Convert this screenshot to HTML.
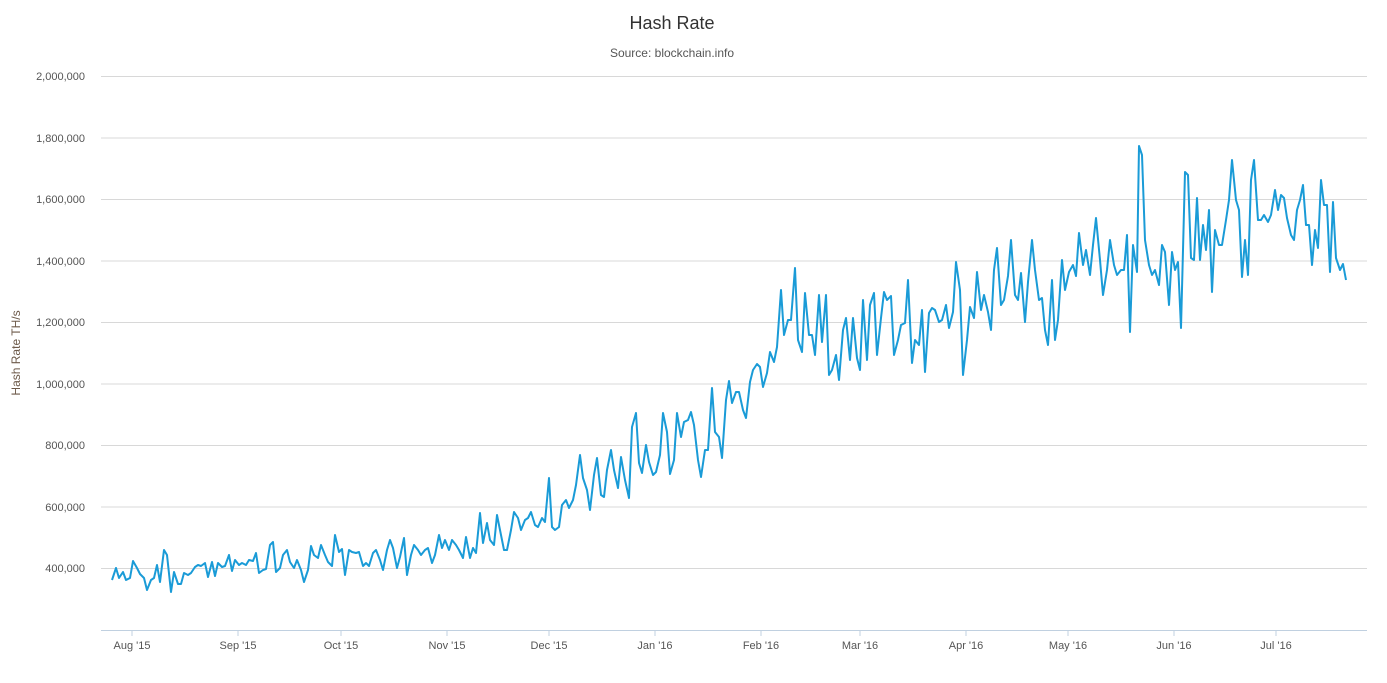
<!DOCTYPE html>
<html><head><meta charset="utf-8"><style>
body{margin:0;background:#fff;font-family:"Liberation Sans",sans-serif}
</style></head><body>
<svg width="1387" height="678" xmlns="http://www.w3.org/2000/svg" font-family="Liberation Sans, sans-serif">
<text x="672" y="29" text-anchor="middle" font-size="18" fill="#333">Hash Rate</text>
<text x="672" y="57" text-anchor="middle" font-size="12" fill="#555">Source: blockchain.info</text>
<g stroke="#d8d8d8" stroke-width="1">
<line x1="101" x2="1367" y1="76.5" y2="76.5"/><line x1="101" x2="1367" y1="138" y2="138"/>
<line x1="101" x2="1367" y1="199.5" y2="199.5"/><line x1="101" x2="1367" y1="261" y2="261"/>
<line x1="101" x2="1367" y1="322.5" y2="322.5"/><line x1="101" x2="1367" y1="384" y2="384"/>
<line x1="101" x2="1367" y1="445.5" y2="445.5"/><line x1="101" x2="1367" y1="507" y2="507"/>
<line x1="101" x2="1367" y1="568.5" y2="568.5"/>
</g>
<line x1="101" x2="1367" y1="630.5" y2="630.5" stroke="#c0d0e0"/>
<g stroke="#c0d0e0"><line x1="132" x2="132" y1="630" y2="636"/><line x1="238" x2="238" y1="630" y2="636"/><line x1="341" x2="341" y1="630" y2="636"/><line x1="447" x2="447" y1="630" y2="636"/><line x1="549" x2="549" y1="630" y2="636"/><line x1="655" x2="655" y1="630" y2="636"/><line x1="761" x2="761" y1="630" y2="636"/><line x1="860" x2="860" y1="630" y2="636"/><line x1="966" x2="966" y1="630" y2="636"/><line x1="1068" x2="1068" y1="630" y2="636"/><line x1="1174" x2="1174" y1="630" y2="636"/><line x1="1276" x2="1276" y1="630" y2="636"/></g>
<g font-size="11" fill="#555" text-anchor="end">
<text x="85" y="80">2,000,000</text><text x="85" y="142">1,800,000</text><text x="85" y="203">1,600,000</text><text x="85" y="265">1,400,000</text><text x="85" y="326">1,200,000</text><text x="85" y="388">1,000,000</text><text x="85" y="449">800,000</text><text x="85" y="511">600,000</text><text x="85" y="572">400,000</text>
</g>
<g font-size="11" fill="#555" text-anchor="middle">
<text x="132" y="649">Aug '15</text><text x="238" y="649">Sep '15</text><text x="341" y="649">Oct '15</text><text x="447" y="649">Nov '15</text><text x="549" y="649">Dec '15</text><text x="655" y="649">Jan '16</text><text x="761" y="649">Feb '16</text><text x="860" y="649">Mar '16</text><text x="966" y="649">Apr '16</text><text x="1068" y="649">May '16</text><text x="1174" y="649">Jun '16</text><text x="1276" y="649">Jul '16</text>
</g>
<text transform="translate(20,353) rotate(-90)" text-anchor="middle" font-size="12" fill="#6d5a4a">Hash Rate TH/s</text>
<polyline fill="none" stroke="#1a9bd7" stroke-width="2" stroke-linejoin="round" points="112,580 116,568 119,578 123,572 126,580 130,578 133,561 137,568 140,574 144,578 147,590 151,580 154,578 157,565 160,582 164,550 167,555 171,592 174,572 178,584 181,584 184,573 188,575 191,573 195,567 198,565 201,566 205,563 208,577 212,562 215,576 218,563 222,567 225,566 229,555 232,571 235,560 239,565 242,563 246,565 249,560 253,561 256,553 259,573 263,570 266,569 270,545 273,542 276,572 280,568 283,555 287,550 290,562 294,568 297,560 301,570 304,582 308,570 311,546 314,555 318,558 321,545 325,555 328,562 332,566 335,535 339,552 342,549 345,575 349,550 352,552 356,553 359,552 363,566 366,563 369,566 373,553 376,550 380,560 383,570 387,550 390,540 393,548 397,568 400,557 404,538 407,575 411,555 414,545 418,550 421,555 425,550 428,548 432,563 435,555 439,535 442,548 445,540 449,550 452,540 456,545 459,550 463,558 466,537 470,558 473,548 476,553 480,513 483,543 487,523 490,540 494,545 497,515 500,530 504,550 507,550 511,530 514,512 518,518 521,530 525,520 528,518 531,512 535,525 538,527 542,518 545,522 549,478 552,527 555,530 559,527 562,505 566,500 569,508 573,500 576,485 580,455 583,478 587,490 590,510 594,475 597,458 601,495 604,497 607,470 611,450 614,470 618,488 621,457 625,480 629,498 632,427 636,413 639,463 642,473 646,445 649,462 653,475 656,472 660,455 663,413 667,432 670,474 674,460 677,413 681,437 684,422 688,420 691,412 694,425 698,460 701,477 705,450 708,450 712,388 715,432 719,437 722,458 726,400 729,381 732,403 736,392 739,392 743,410 746,418 750,382 753,370 757,364 760,367 763,387 767,373 770,352 774,362 777,347 781,290 784,335 788,320 791,320 795,268 798,340 802,352 805,293 809,335 812,335 815,355 819,295 822,342 826,295 829,375 832,370 836,355 839,380 843,330 846,318 850,360 853,318 857,358 860,370 863,300 867,360 870,305 874,293 877,355 881,318 884,292 887,300 891,296 894,355 898,340 901,325 905,323 908,280 912,363 915,340 919,345 922,310 925,372 929,313 932,308 935,310 939,322 942,320 946,305 949,328 953,312 956,262 960,290 963,375 967,340 970,307 974,318 977,272 981,310 984,295 988,312 991,330 994,270 997,248 1001,305 1004,300 1008,276 1011,240 1015,295 1018,300 1021,273 1025,322 1028,282 1032,240 1035,270 1039,300 1042,298 1045,330 1048,345 1052,280 1055,340 1058,320 1062,260 1065,290 1069,272 1073,265 1076,276 1079,233 1083,265 1086,250 1090,275 1093,245 1096,218 1100,260 1103,295 1107,270 1110,240 1114,265 1117,275 1121,270 1124,270 1127,235 1130,332 1133,245 1137,272 1139,146 1142,155 1145,240 1149,265 1152,275 1155,270 1159,285 1162,245 1165,252 1169,305 1172,252 1175,270 1178,262 1181,328 1185,172 1188,175 1191,258 1194,260 1197,198 1200,260 1203,225 1206,250 1209,210 1212,292 1215,230 1219,245 1222,245 1226,220 1229,200 1232,160 1236,200 1239,210 1242,277 1245,240 1248,275 1251,180 1254,160 1258,220 1261,220 1264,215 1268,222 1271,215 1275,190 1278,210 1281,195 1284,198 1287,218 1291,235 1294,240 1297,210 1300,200 1303,185 1306,225 1309,225 1312,265 1315,230 1318,248 1321,180 1324,205 1327,205 1330,272 1333,202 1336,258 1340,270 1343,264 1346,280"/>
</svg>
</body></html>
